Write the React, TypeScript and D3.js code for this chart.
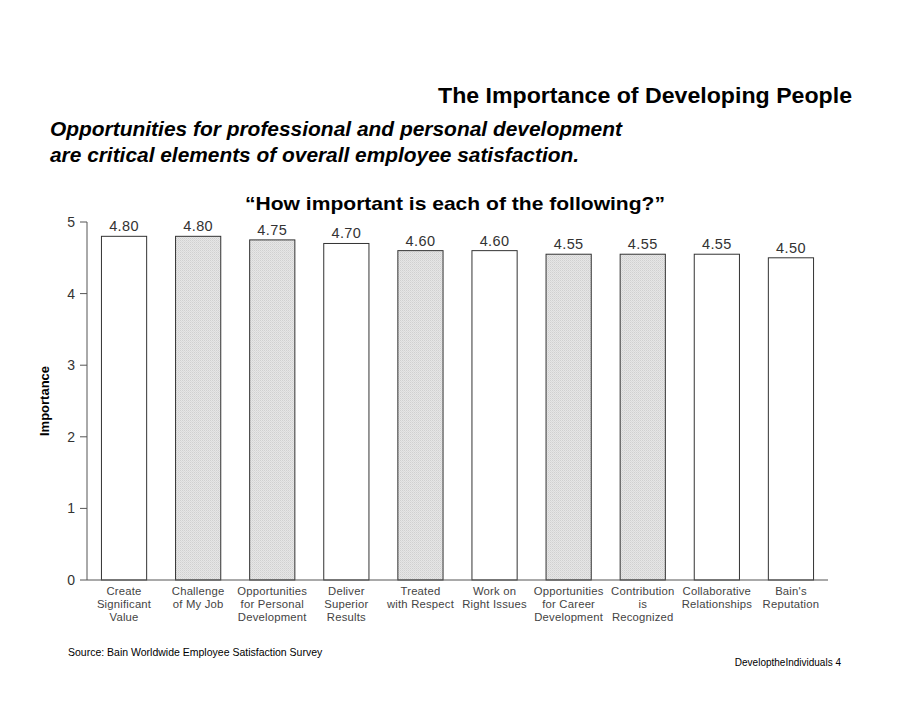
import React from "react";
import * as d3 from "d3";

const categories: string[][] = [
  ["Create", "Significant", "Value"],
  ["Challenge", "of My Job"],
  ["Opportunities", "for Personal", "Development"],
  ["Deliver", "Superior", "Results"],
  ["Treated", "with Respect"],
  ["Work on", "Right Issues"],
  ["Opportunities", "for Career", "Development"],
  ["Contribution", "is", "Recognized"],
  ["Collaborative", "Relationships"],
  ["Bain's", "Reputation"],
];
const values: number[] = [4.8, 4.8, 4.75, 4.7, 4.6, 4.6, 4.55, 4.55, 4.55, 4.5];
const shaded: boolean[] = [false, true, true, false, true, false, true, true, false, false];
const yTicks: number[] = [0, 1, 2, 3, 4, 5];

export default function App() {
  const W = 920, H = 711;
  const x0 = 87, x1 = 828, yTop = 222, yBot = 580;
  const idx = categories.map((_, i) => String(i));
  const x = d3.scaleBand<string>().domain(idx).range([x0, x1]).paddingInner(0.39).paddingOuter(0.195);
  const y = d3.scaleLinear().domain([0, 5]).range([yBot, yTop]);
  const font = "Arial, 'Liberation Sans', Helvetica, sans-serif";
  return (
    <svg width={W} height={H} style={{ position: "absolute", left: 0, top: 0, background: "#fff" }} fontFamily={font}>
      <defs>
        <pattern id="stip" width="2" height="2" patternUnits="userSpaceOnUse">
          <rect width="2" height="2" fill="#e6e6e6" />
          <rect width="1" height="1" fill="#d0d0d0" />
          <rect x="1" y="1" width="1" height="1" fill="#dadada" />
        </pattern>
      </defs>
      <text x={852} y={103} textAnchor="end" fontSize={21.5} fontWeight="bold" fill="#000" textLength={414} lengthAdjust="spacingAndGlyphs">The Importance of Developing People</text>
      <text x={50} y={136} fontSize={20} fontWeight="bold" fontStyle="italic" fill="#000" textLength={572} lengthAdjust="spacingAndGlyphs">Opportunities for professional and personal development</text>
      <text x={50} y={162} fontSize={20} fontWeight="bold" fontStyle="italic" fill="#000" textLength={529} lengthAdjust="spacingAndGlyphs">are critical elements of overall employee satisfaction.</text>
      <text x={245} y={210} fontSize={19} fontWeight="bold" fill="#000" textLength={420} lengthAdjust="spacingAndGlyphs">“How important is each of the following?”</text>
      <text transform={`translate(49,401) rotate(-90)`} textAnchor="middle" fontSize={13} fontWeight="bold" fill="#000">Importance</text>
      {/* y axis */}
      <line x1={x0} x2={x0} y1={y(5)} y2={yBot} stroke="#555" strokeWidth={1} />
      {yTicks.map((t) => (
        <g key={t}>
          <line x1={x0 - 7} x2={x0} y1={y(t)} y2={y(t)} stroke="#555" />
          <text x={x0 - 12} y={y(t) + 5} textAnchor="end" fontSize={14} fill="#333">{t}</text>
        </g>
      ))}
      {/* bars */}
      {values.map((v, i) => (
        <g key={i}>
          <rect x={x(String(i))!} y={y(v)} width={x.bandwidth()} height={yBot - y(v)}
            fill={shaded[i] ? "url(#stip)" : "#fff"} stroke="#333" strokeWidth={1} />
          <text x={x(String(i))! + x.bandwidth() / 2} y={y(v) - 5} textAnchor="middle" fontSize={14.5} fill="#333" letterSpacing={0.4}>{v.toFixed(2)}</text>
        </g>
      ))}
      {/* x axis */}
      <line x1={x0} x2={x1} y1={yBot} y2={yBot} stroke="#555" strokeWidth={1} />
      {categories.map((lines, i) => (
        <text key={i} textAnchor="middle" fontSize={11.3} fill="#444" letterSpacing={0.2}>
          {lines.map((l, j) => (
            <tspan key={j} x={x(String(i))! + x.bandwidth() / 2} y={595 + j * 13}>{l}</tspan>
          ))}
        </text>
      ))}
      <text x={68} y={656} fontSize={10.5} fill="#000" style={{ fontStretch: "condensed" }}>Source:  Bain Worldwide Employee Satisfaction Survey</text>
      <text x={841} y={666} textAnchor="end" fontSize={10} fill="#000" style={{ fontStretch: "condensed" }}>DeveloptheIndividuals   4</text>
    </svg>
  );
}
